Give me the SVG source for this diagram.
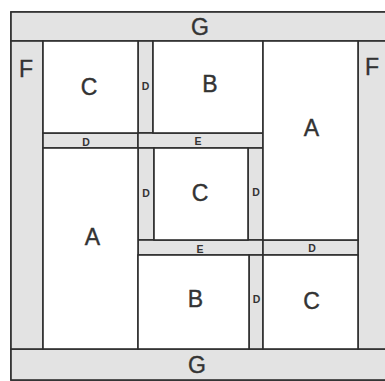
<svg xmlns="http://www.w3.org/2000/svg" width="385" height="381" viewBox="0 0 385 381">
<style>
.strip{fill:#e3e3e3;stroke:#2e2e2e;stroke-width:1.6}
.box{fill:#ffffff;stroke:#2e2e2e;stroke-width:1.6}
.big{font-family:"Liberation Sans",Arial,sans-serif;font-size:23px;fill:#333;text-anchor:middle;stroke:#333;stroke-width:0.4}
.sm{font-family:"Liberation Sans",Arial,sans-serif;font-size:10.5px;font-weight:bold;fill:#333;text-anchor:middle}
</style>
<rect x="0" y="0" width="385" height="381" fill="#ffffff"/>
<g id="frame">
<rect class="strip" x="11" y="12" width="380" height="368"/>
</g>
<g id="G-top"><rect class="strip" x="11" y="12" width="380" height="29"/><text class="big" x="200" y="35">G</text></g>
<g id="G-bottom"><rect class="strip" x="11" y="349" width="380" height="31"/><text class="big" x="197" y="373">G</text></g>
<g id="F-left"><rect class="strip" x="11" y="41" width="32" height="308"/><text class="big" x="26" y="77">F</text></g>
<g id="F-right"><rect class="strip" x="358" y="41" width="33" height="308"/><text class="big" x="372" y="75">F</text></g>
<g id="D-vtop"><rect class="strip" x="138" y="41" width="15" height="92"/><text class="sm" x="145.5" y="90">D</text></g>
<g id="D-htop"><rect class="strip" x="43" y="133" width="95" height="15"/><text class="sm" x="86" y="145.5">D</text></g>
<g id="E-htop"><rect class="strip" x="138" y="133" width="125" height="15"/><text class="sm" x="198" y="145">E</text></g>
<g id="D-vmidL"><rect class="strip" x="138" y="148" width="16" height="92"/><text class="sm" x="146" y="197">D</text></g>
<g id="D-vmidR"><rect class="strip" x="248" y="148" width="15" height="92"/><text class="sm" x="256" y="196">D</text></g>
<g id="E-hmid"><rect class="strip" x="138" y="240" width="125" height="15"/><text class="sm" x="200" y="252.5">E</text></g>
<g id="D-hmid"><rect class="strip" x="263" y="240" width="95" height="15"/><text class="sm" x="312" y="251.5">D</text></g>
<g id="D-vbot"><rect class="strip" x="249" y="255" width="14" height="94"/><text class="sm" x="256.5" y="303">D</text></g>
<g id="C-topleft"><rect class="box" x="43" y="41" width="95" height="92"/><text class="big" x="89" y="95">C</text></g>
<g id="B-top"><rect class="box" x="153" y="41" width="110" height="92"/><text class="big" x="210" y="92">B</text></g>
<g id="A-right"><rect class="box" x="263" y="41" width="95" height="199"/><text class="big" x="311.5" y="136">A</text></g>
<g id="A-left"><rect class="box" x="43" y="148" width="95" height="201"/><text class="big" x="92.5" y="245">A</text></g>
<g id="C-mid"><rect class="box" x="154" y="148" width="94" height="92"/><text class="big" x="200" y="201">C</text></g>
<g id="B-bottom"><rect class="box" x="138" y="255" width="111" height="94"/><text class="big" x="195.5" y="307">B</text></g>
<g id="C-bottom"><rect class="box" x="263" y="255" width="95" height="94"/><text class="big" x="311.5" y="309">C</text></g>
</svg>
